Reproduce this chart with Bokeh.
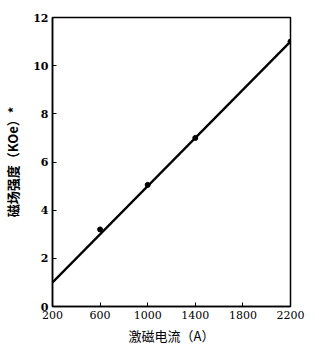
from bokeh.plotting import figure
from bokeh.models import FixedTicker
from bokeh.embed import file_html
from bokeh.resources import INLINE

# data
current = [600, 1000, 1400, 2200]          # 激磁电流 (A)
field = [3.2, 5.05, 7.0, 11.0]             # 磁场强度 (KOe)
fit_current = [200, 2200]
fit_field = [1.0, 11.0]
x_ticks = [200, 600, 1000, 1400, 1800, 2200]
y_ticks = [0, 2, 4, 6, 8, 10, 12]

p = figure(width=319, height=350, output_backend="svg", toolbar_location=None,
           x_range=(200, 2200), y_range=(0, 12),
           min_border_left=52, min_border_right=29, min_border_top=17, min_border_bottom=44)

p.line(fit_current, fit_field, line_color="black", line_width=2.5)
p.scatter(current, field, size=5, color="black")

p.grid.visible = False
p.outline_line_color = "black"
p.outline_line_width = 1.5

for ax in (p.xaxis[0], p.yaxis[0]):
    ax.axis_line_width = 1.5
    ax.axis_line_color = "black"
    ax.major_tick_in = 4
    ax.major_tick_out = 0
    ax.minor_tick_line_color = None
    ax.major_label_text_color = "black"
    ax.major_label_text_font = "DejaVu Serif"
    ax.major_label_text_font_size = "11px"
    ax.axis_label_text_color = "black"

p.xaxis.ticker = FixedTicker(ticks=x_ticks)
p.yaxis.ticker = FixedTicker(ticks=y_ticks)
p.yaxis.major_label_text_font_style = "bold"
p.yaxis.major_label_standoff = 4
p.xaxis.major_label_standoff = 4

p.xaxis.axis_label = "激磁电流（A）"
p.xaxis.axis_label_text_font = "Noto Sans CJK SC"
p.xaxis.axis_label_text_font_style = "normal"
p.xaxis.axis_label_text_font_size = "13px"
p.xaxis.axis_label_standoff = 4

p.yaxis.axis_label = "磁场强度（KOe）*"
p.yaxis.axis_label_text_font = "Noto Sans CJK SC"
p.yaxis.axis_label_text_font_style = "bold"
p.yaxis.axis_label_text_font_size = "13px"
p.yaxis.axis_label_standoff = 8

open("out.html", "w").write(file_html(p, INLINE))
